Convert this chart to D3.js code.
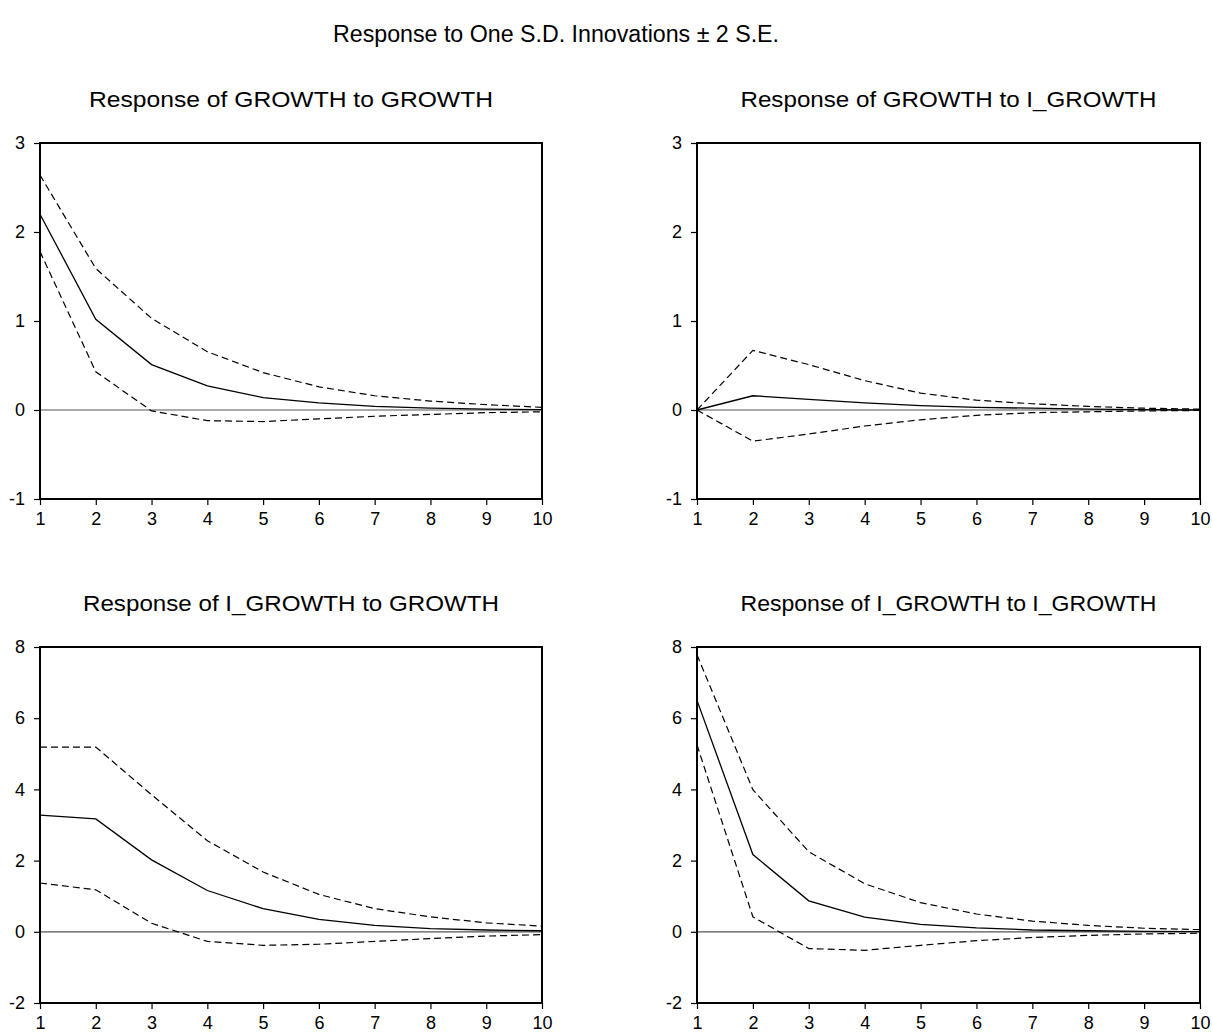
<!DOCTYPE html>
<html>
<head>
<meta charset="utf-8">
<script src="https://cdnjs.cloudflare.com/ajax/libs/d3/7.8.5/d3.min.js"></script>
<style>
  body { margin: 0; background: #fff; }
  text { font-family: "Liberation Sans", Arial, sans-serif; fill: #000; }
</style>
</head>
<body>
<div id="chart"></div>
<script>
// horizon of the impulse responses
var periods = [1, 2, 3, 4, 5, 6, 7, 8, 9, 10];

// Response of GROWTH to GROWTH
var gg_resp  = [2.20, 1.02, 0.51, 0.27, 0.14, 0.08, 0.04, 0.02, 0.01, 0.005];
var gg_upper = [2.64, 1.59, 1.03, 0.655, 0.42, 0.26, 0.16, 0.10, 0.06, 0.03];
var gg_lower = [1.78, 0.43, -0.01, -0.12, -0.13, -0.10, -0.07, -0.05, -0.03, -0.02];

// Response of GROWTH to I_GROWTH
var gi_resp  = [0, 0.16, 0.12, 0.08, 0.05, 0.03, 0.02, 0.01, 0.005, 0];
var gi_upper = [0, 0.67, 0.51, 0.33, 0.19, 0.11, 0.07, 0.04, 0.02, 0.01];
var gi_lower = [0, -0.35, -0.27, -0.18, -0.11, -0.06, -0.03, -0.02, -0.01, -0.005];

// Response of I_GROWTH to GROWTH
var ig_resp  = [3.28, 3.17, 2.02, 1.16, 0.65, 0.35, 0.18, 0.09, 0.05, 0.03];
var ig_upper = [5.19, 5.19, 3.85, 2.56, 1.68, 1.05, 0.65, 0.42, 0.25, 0.16];
var ig_lower = [1.37, 1.18, 0.24, -0.27, -0.38, -0.35, -0.27, -0.19, -0.12, -0.08];

// Response of I_GROWTH to I_GROWTH
var ii_resp  = [6.50, 2.17, 0.87, 0.41, 0.21, 0.11, 0.05, 0.03, 0.01, 0.005];
var ii_upper = [7.78, 3.99, 2.25, 1.35, 0.82, 0.50, 0.30, 0.18, 0.10, 0.06];
var ii_lower = [5.25, 0.42, -0.47, -0.52, -0.38, -0.25, -0.16, -0.10, -0.06, -0.04];

var topTicks = [-1, 0, 1, 2, 3];
var bottomTicks = [-2, 0, 2, 4, 6, 8];

var mainTitle = "Response to One S.D. Innovations \u00b1 2 S.E.";

var panels = [
  {title: "Response of GROWTH to GROWTH", resp: gg_resp, upper: gg_upper, lower: gg_lower,
   ticks: topTicks, left: 40, right: 542, top: 143, bottom: 499},
  {title: "Response of GROWTH to I_GROWTH", resp: gi_resp, upper: gi_upper, lower: gi_lower,
   ticks: topTicks, left: 697, right: 1200, top: 143, bottom: 499},
  {title: "Response of I_GROWTH to GROWTH", resp: ig_resp, upper: ig_upper, lower: ig_lower,
   ticks: bottomTicks, left: 40, right: 542, top: 647, bottom: 1003},
  {title: "Response of I_GROWTH to I_GROWTH", resp: ii_resp, upper: ii_upper, lower: ii_lower,
   ticks: bottomTicks, left: 697, right: 1200, top: 647, bottom: 1003}
];

var svg = d3.select("#chart")
  .append("svg")
  .attr("width", 1212)
  .attr("height", 1032);

svg.append("text")
  .attr("x", 556)
  .attr("y", 42)
  .attr("text-anchor", "middle")
  .attr("font-size", 23)
  .attr("textLength", 446)
  .attr("lengthAdjust", "spacingAndGlyphs")
  .text(mainTitle);

panels.forEach(function(p) {
  var x = d3.scaleLinear()
    .domain([1, 10])
    .range([p.left, p.right]);

  var y = d3.scaleLinear()
    .domain(d3.extent(p.ticks))
    .range([p.bottom, p.top]);

  var g = svg.append("g");

  // panel title
  g.append("text")
    .attr("x", (p.left + p.right) / 2)
    .attr("y", p.top - 36)
    .attr("text-anchor", "middle")
    .attr("font-size", 22)
    .attr("textLength", p.title.length > 28 ? 416 : 404)
    .attr("lengthAdjust", "spacingAndGlyphs")
    .text(p.title);

  // zero line
  g.append("line")
    .attr("x1", p.left).attr("x2", p.right)
    .attr("y1", y(0)).attr("y2", y(0))
    .attr("stroke", "#555")
    .attr("stroke-width", 1.2);

  var line = d3.line()
    .x(function(d, i) { return x(periods[i]); })
    .y(function(d) { return y(d); });

  g.append("path")
    .datum(p.upper)
    .attr("fill", "none")
    .attr("stroke", "#000")
    .attr("stroke-width", 1.2)
    .attr("stroke-dasharray", "7,4")
    .attr("d", line);

  g.append("path")
    .datum(p.lower)
    .attr("fill", "none")
    .attr("stroke", "#000")
    .attr("stroke-width", 1.2)
    .attr("stroke-dasharray", "7,4")
    .attr("d", line);

  g.append("path")
    .datum(p.resp)
    .attr("fill", "none")
    .attr("stroke", "#000")
    .attr("stroke-width", 1.3)
    .attr("d", line);

  // frame
  g.append("rect")
    .attr("x", p.left).attr("y", p.top)
    .attr("width", p.right - p.left)
    .attr("height", p.bottom - p.top)
    .attr("fill", "none")
    .attr("stroke", "#000")
    .attr("stroke-width", 2);

  // axes
  var yAxis = g.append("g")
    .attr("transform", "translate(" + p.left + ",0)")
    .call(d3.axisLeft(y).tickValues(p.ticks).tickSize(6).tickPadding(9)
      .tickFormat(function(d) { return String(d); }));

  var xAxis = g.append("g")
    .attr("transform", "translate(0," + p.bottom + ")")
    .call(d3.axisBottom(x).tickValues(periods).tickSize(6).tickPadding(7)
      .tickFormat(function(d) { return String(d); }));

  [yAxis, xAxis].forEach(function(a) {
    a.select(".domain").remove();
    a.selectAll("line").attr("stroke", "#000").attr("stroke-width", 1.2);
    a.selectAll("text")
      .attr("font-size", 18)
      .attr("font-family", "Liberation Sans, Arial, sans-serif")
      .attr("fill", "#000");
  });
});
</script>
</body>
</html>
